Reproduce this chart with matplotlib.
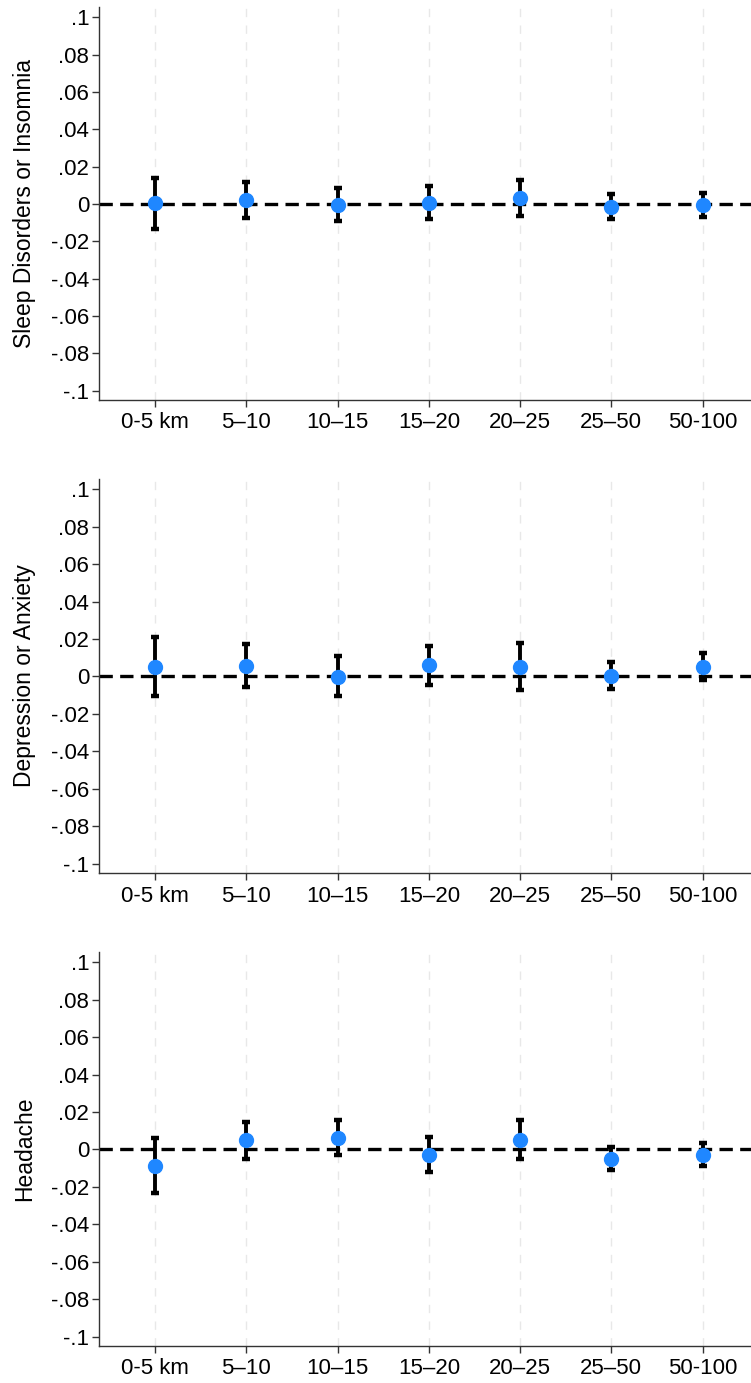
import numpy as np
import matplotlib
matplotlib.use("Agg")
import matplotlib.pyplot as plt

plt.rcParams['font.family'] = ['Liberation Sans', 'DejaVu Sans']

# distance bins
bins = ["0-5 km", "5\u201310", "10\u201315", "15\u201320", "20\u201325", "25\u201350", "50-100"]

# outcomes (y labels)
outcomes = ["Sleep Disorders or Insomnia", "Depression or Anxiety", "Headache"]

# point estimates
sleep_coef = [0.0003, 0.0021, -0.0004, 0.0007, 0.0034, -0.0014, -0.0007]
depr_coef = [0.0053, 0.0057, -0.0002, 0.0059, 0.0053, 0.0000, 0.0050]
head_coef = [-0.0089, 0.0048, 0.0062, -0.0027, 0.0053, -0.0050, -0.0027]

# confidence interval bounds
sleep_lo = [-0.0134, -0.0077, -0.0093, -0.0082, -0.0063, -0.0079, -0.0070]
sleep_hi = [0.0141, 0.0119, 0.0087, 0.0094, 0.0130, 0.0053, 0.0059]
depr_lo = [-0.0103, -0.0057, -0.0107, -0.0046, -0.0073, -0.0067, -0.0020]
depr_hi = [0.0210, 0.0172, 0.0107, 0.0165, 0.0181, 0.0075, 0.0124]
head_lo = [-0.0235, -0.0053, -0.0032, -0.0119, -0.0050, -0.0110, -0.0089]
head_hi = [0.0062, 0.0148, 0.0158, 0.0068, 0.0160, 0.0014, 0.0036]

yticks = [0.1, 0.08, 0.06, 0.04, 0.02, 0, -0.02, -0.04, -0.06, -0.08, -0.1]
ytick_labels = [".1", ".08", ".06", ".04", ".02", "0", "-.02", "-.04", "-.06", "-.08", "-.1"]

panels = [
    (outcomes[0], sleep_coef, sleep_lo, sleep_hi),
    (outcomes[1], depr_coef, depr_lo, depr_hi),
    (outcomes[2], head_coef, head_lo, head_hi),
]

W, H = 751, 1383
fig = plt.figure(figsize=(W / 100, H / 100), dpi=100)

# axes boxes in pixels: (top, bottom)
boxes = [(7, 400), (479, 873), (952, 1346)]
left_px = 99

dot_color = "#1f87ff"
x = np.arange(1, len(bins) + 1)

for (label, coef, lo, hi), (top, bot) in zip(panels, boxes):
    ax = fig.add_axes([left_px / W, 1 - bot / H, 1 - left_px / W, (bot - top) / H])
    coef = np.array(coef)
    yerr = np.vstack([coef - np.array(lo), np.array(hi) - coef])

    for xi in x:
        ax.axvline(xi, color="#e8e8e8", lw=1.0, ls=(0, (6, 6)), zorder=0)
    ax.axhline(0, color="black", lw=2.4, ls=(0, (4, 2.2)), zorder=1)
    ax.errorbar(x, coef, yerr=yerr, fmt="none", ecolor="black", elinewidth=2.8,
                capsize=2.8, capthick=3.2, zorder=2)
    ax.plot(x, coef, "o", color=dot_color, ms=10, mec=dot_color, zorder=3)

    ax.set_xlim(0.386, 7.53)
    ax.set_ylim(-0.105, 0.1055)
    ax.set_xticks(x)
    ax.set_xticklabels(bins, fontsize=16)
    ax.set_yticks(yticks)
    ax.set_yticklabels(ytick_labels, fontsize=16)
    ax.set_ylabel(label, fontsize=16.5)
    ax.tick_params(axis="both", length=5, width=1, color="#333333")
    ax.tick_params(axis="y", pad=2)
    ax.tick_params(axis="x", pad=4)
    for s in ["top", "right"]:
        ax.spines[s].set_visible(False)
    ax.spines["left"].set_color("#333333")
    ax.spines["bottom"].set_color("#333333")
    ax.spines["left"].set_linewidth(1)
    ax.spines["bottom"].set_linewidth(1)
    ax.yaxis.set_label_coords(-0.096, 0.5)

fig.savefig("out.png", dpi=100, facecolor="white")
